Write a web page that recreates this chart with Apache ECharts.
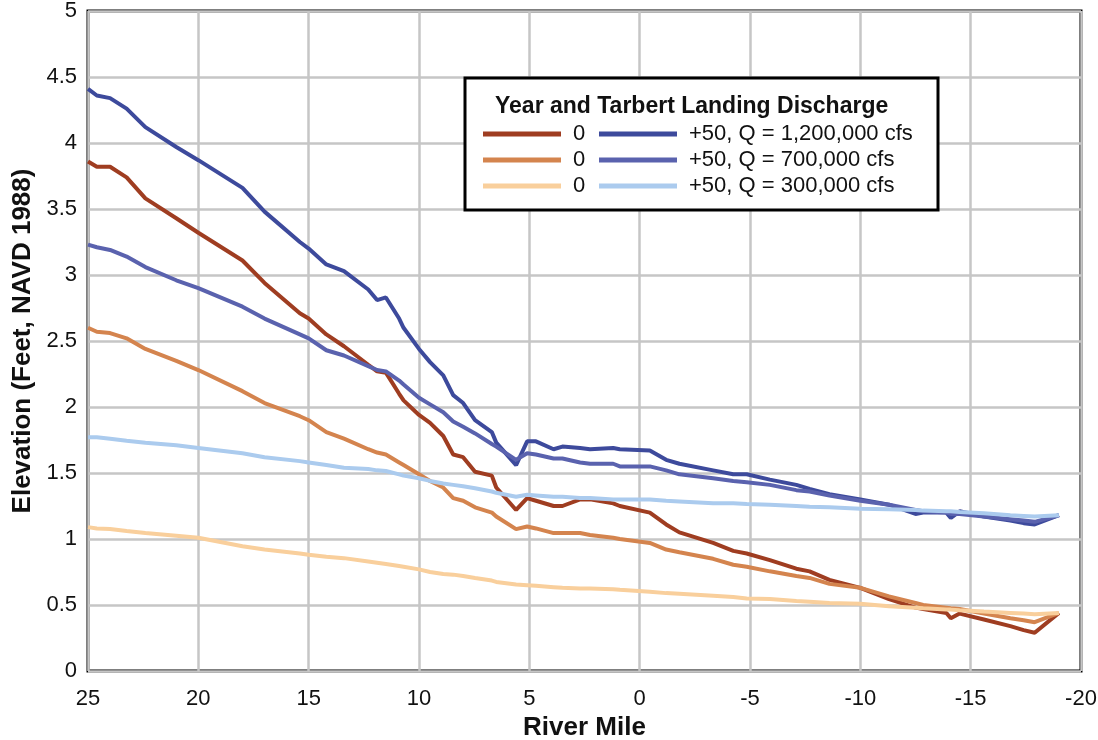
<!DOCTYPE html>
<html>
<head>
<meta charset="utf-8">
<script src="https://cdn.jsdelivr.net/npm/echarts@6/dist/echarts.min.js"></script>
<style>
  html, body { margin: 0; padding: 0; background: #fff; }
  #chart { width: 1098px; height: 740px; }
</style>
</head>
<body>
<div id="chart"></div>
<script>
// river miles (shared by all six profiles)
const miles = [25, 24.6, 24, 23.25, 22.4, 21, 20, 18, 17, 15.4, 15, 14.2, 13.4, 12.3, 11.9, 11.5,
  10.9, 10.7, 10, 9.5, 8.9, 8.45, 8, 7.46, 6.7, 6.5, 5.6, 5.1, 4.7, 3.9, 3.5, 2.7, 2.25, 1.2, 0.9,
  -0.46, -1.2, -1.8, -3.33, -4.24, -4.85, -5.9, -7.1, -7.7, -8.6, -10, -11.3, -12.5, -12.85, -13.9,
  -14.1, -14.5, -15.6, -16.8, -17.4, -17.9, -19];

const yr0_1200k = [3.86, 3.82, 3.82, 3.74, 3.58, 3.43, 3.32, 3.11, 2.94, 2.71, 2.67, 2.55, 2.46, 2.32, 2.27, 2.26,
  2.10, 2.05, 1.94, 1.88, 1.78, 1.64, 1.62, 1.51, 1.48, 1.39, 1.22, 1.31, 1.29, 1.25, 1.25, 1.30, 1.30, 1.27, 1.25,
  1.20, 1.11, 1.05, 0.97, 0.91, 0.89, 0.84, 0.775, 0.755, 0.69, 0.63, 0.545, 0.48, 0.47, 0.44,
  0.40, 0.435, 0.39, 0.34, 0.31, 0.29, 0.44];
const yr0_700k = [2.60, 2.57, 2.56, 2.52, 2.44, 2.35, 2.28, 2.12, 2.03, 1.93, 1.90, 1.81, 1.76, 1.68, 1.655, 1.64,
  1.58, 1.56, 1.49, 1.44, 1.39, 1.31, 1.29, 1.24, 1.20, 1.17, 1.075, 1.095, 1.08, 1.045, 1.045, 1.045, 1.03, 1.01, 1.00,
  0.97, 0.92, 0.90, 0.85, 0.805, 0.79, 0.755, 0.72, 0.705, 0.66, 0.63, 0.565, 0.515, 0.50, 0.48,
  0.475, 0.47, 0.435, 0.40, 0.385, 0.37, 0.44];
const yr0_300k = [1.09, 1.08, 1.075, 1.06, 1.045, 1.025, 1.01, 0.945, 0.92, 0.89, 0.88, 0.865, 0.855, 0.83, 0.82, 0.81,
  0.795, 0.79, 0.77, 0.75, 0.735, 0.73, 0.72, 0.705, 0.685, 0.675, 0.655, 0.65, 0.645, 0.635, 0.63, 0.625, 0.625, 0.62, 0.615,
  0.60, 0.59, 0.585, 0.57, 0.56, 0.55, 0.545, 0.53, 0.525, 0.515, 0.51, 0.49, 0.48, 0.475, 0.465,
  0.465, 0.46, 0.45, 0.44, 0.435, 0.43, 0.44];
const yr50_1200k = [4.41, 4.36, 4.34, 4.26, 4.12, 3.97, 3.87, 3.66, 3.48, 3.25, 3.20, 3.08, 3.03, 2.89, 2.81, 2.83,
  2.67, 2.60, 2.44, 2.34, 2.24, 2.09, 2.03, 1.90, 1.81, 1.73, 1.56, 1.74, 1.74, 1.68, 1.70, 1.69, 1.68, 1.69, 1.68,
  1.67, 1.60, 1.57, 1.52, 1.49, 1.49, 1.45, 1.41, 1.38, 1.34, 1.30, 1.26, 1.19, 1.20, 1.20,
  1.16, 1.21, 1.17, 1.14, 1.12, 1.11, 1.18];
const yr50_700k = [3.23, 3.21, 3.19, 3.14, 3.06, 2.96, 2.90, 2.76, 2.67, 2.55, 2.52, 2.43, 2.39, 2.31, 2.28, 2.27,
  2.20, 2.17, 2.07, 2.02, 1.96, 1.89, 1.85, 1.80, 1.72, 1.70, 1.60, 1.65, 1.64, 1.61, 1.61, 1.58, 1.57, 1.57, 1.55,
  1.55, 1.52, 1.49, 1.46, 1.44, 1.43, 1.41, 1.37, 1.36, 1.33, 1.29, 1.26, 1.22, 1.21, 1.20,
  1.19, 1.19, 1.17, 1.15, 1.14, 1.13, 1.18];
const yr50_300k = [1.77, 1.77, 1.76, 1.745, 1.73, 1.71, 1.69, 1.65, 1.62, 1.59, 1.58, 1.56, 1.54, 1.53, 1.52, 1.515,
  1.49, 1.48, 1.46, 1.44, 1.42, 1.41, 1.40, 1.385, 1.36, 1.35, 1.32, 1.335, 1.33, 1.32, 1.32, 1.31, 1.31, 1.30, 1.30,
  1.30, 1.29, 1.285, 1.27, 1.27, 1.265, 1.26, 1.25, 1.245, 1.24, 1.23, 1.225, 1.22, 1.215, 1.21,
  1.21, 1.205, 1.195, 1.18, 1.175, 1.17, 1.18];

const legendTitle = "Year and Tarbert Landing Discharge";
const seriesDefs = [
  { name: "0|1,200,000", values: yr0_1200k, color: "#9f3d21" },
  { name: "0|700,000", values: yr0_700k, color: "#d4844e" },
  { name: "0|300,000", values: yr0_300k, color: "#f9cf9c" },
  { name: "+50, Q = 1,200,000 cfs", values: yr50_1200k, color: "#3d4a9c" },
  { name: "+50, Q = 700,000 cfs", values: yr50_700k, color: "#5a62ae" },
  { name: "+50, Q = 300,000 cfs", values: yr50_300k, color: "#abcbee" }
];

const font = "'Liberation Sans', Arial, sans-serif";
const chart = echarts.init(document.getElementById("chart"));

const series = seriesDefs.map(s => ({
  name: s.name,
  type: "line",
  data: miles.map((m, i) => [m, s.values[i]]),
  showSymbol: false,
  symbol: "none",
  lineStyle: { color: s.color, width: 4 },
  itemStyle: { color: s.color },
  z: 2
}));

const legendBase = {
  orient: "vertical",
  padding: 0,
  itemWidth: 78,
  itemHeight: 5,
  itemGap: 4,
  icon: "rect",
  z: 10,
  selectedMode: false,
  textStyle: { fontFamily: font, fontSize: 22, color: "#111", padding: [0, 0, 0, 7] },
  formatter: name => name.split("|")[0]
};

chart.setOption({
  backgroundColor: "#fff",
  animation: false,
  grid: {
    left: 88, right: 17, top: 11, bottom: 69,
    outerBoundsMode: "none",
    containLabel: false,
    show: true, borderColor: "#000", borderWidth: 3, backgroundColor: "transparent"
  },
  xAxis: {
    type: "value",
    min: -20, max: 25, interval: 5,
    inverse: true,
    name: "River Mile",
    nameLocation: "middle",
    nameGap: 43,
    nameTextStyle: { fontFamily: font, fontSize: 26, fontWeight: "bold", color: "#111" },
    axisLine: { show: false },
    axisTick: { show: false },
    axisLabel: { fontFamily: font, fontSize: 22, color: "#111", margin: 17 },
    splitLine: { lineStyle: { color: "#c6c6c6", width: 2.5 } }
  },
  yAxis: {
    type: "value",
    min: 0, max: 5, interval: 0.5,
    name: "Elevation (Feet, NAVD 1988)",
    nameLocation: "middle",
    nameGap: 52,
    nameTextStyle: { fontFamily: font, fontSize: 26, fontWeight: "bold", color: "#111" },
    axisLine: { show: false },
    axisTick: { show: false },
    axisLabel: { fontFamily: font, fontSize: 22, color: "#111", margin: 11 },
    splitLine: { lineStyle: { color: "#c6c6c6", width: 2.5 } }
  },
  legend: [
    Object.assign({}, legendBase, { left: 483, top: 123, data: seriesDefs.slice(0, 3).map(s => s.name) }),
    Object.assign({}, legendBase, { left: 599, top: 123, data: seriesDefs.slice(3).map(s => s.name) })
  ],
  graphic: [
    {
      type: "rect", z: 8,
      shape: { x: 465, y: 78, width: 473, height: 132 },
      style: { fill: "#fff", stroke: "#000", lineWidth: 3 }
    },
    {
      type: "text", z: 9, left: 495, top: 95,
      style: { text: legendTitle, font: "bold 23px " + font, fill: "#111" }
    }
  ],
  series: series
});
</script>
</body>
</html>
